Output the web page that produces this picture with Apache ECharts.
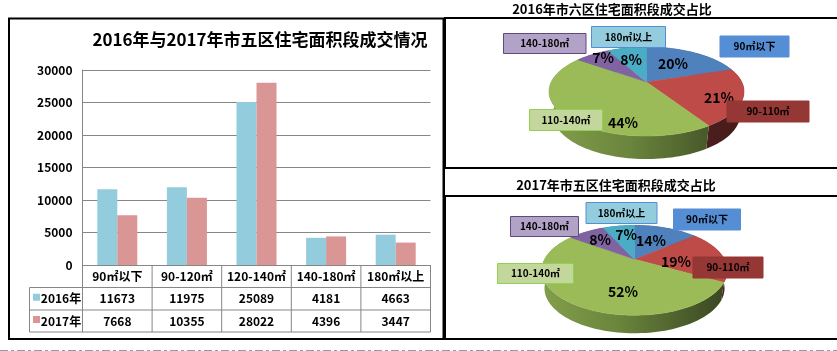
<!DOCTYPE html>
<html>
<head>
<meta charset="utf-8">
<style>
  html, body { margin: 0; padding: 0; background: #fff; }
  #main { width: 837px; height: 351px; }
</style>
<script src="https://cdn.jsdelivr.net/npm/echarts@6/dist/echarts.min.js"></script>
</head>
<body>
<div id="main"></div>
<script>
// 柱状图数据
const categories = ["90㎡以下", "90-120㎡", "120-140㎡", "140-180㎡", "180㎡以上"];
const values2016 = [11673, 11975, 25089, 4181, 4663];
const values2017 = [7668, 10355, 28022, 4396, 3447];
const yTicks = [0, 5000, 10000, 15000, 20000, 25000, 30000];

// 饼图数据
const pieNames = ["90㎡以下", "90-110㎡", "110-140㎡", "140-180㎡", "180㎡以上"];
const shares2016 = [20, 21, 44, 7, 8];
const shares2017 = [14, 19, 52, 8, 7];

const FONT = "'Noto Sans CJK SC', sans-serif";
const GREY = "#868686";
const grid = { left: 82.5, right: 430.5, top: 70, bottom: 265 };
const colW = (grid.right - grid.left) / categories.length;
const rowY = [265, 287.5, 310, 332];

const topColors = ["#4F81BD", "#BE4B48", "#9BBB59", "#8064A2", "#4BACC6"];
const sideColors = [
  ["#2f4d71", "#2f4d71", "#2f4d71"],
  ["#5a2422", "#5a2422", "#451c1b"],
  ["#829d4a", "#6b863d", "#3a4622"],
  ["#4c3c61", "#4c3c61", "#4c3c61"],
  ["#2d6776", "#2d6776", "#2d6776"],
];
const boxStyles = [
  { fill: "#558ED5", stroke: "#558ED5" },
  { fill: "#953735", stroke: "#953735" },
  { fill: "#C3D69B", stroke: "#92D050" },
  { fill: "#B3A2C7", stroke: "#604A7B" },
  { fill: "#93CDDD", stroke: "#558ED5" },
];

// 饼图的透视参数和手工摆放的标签位置
const pie2016 = {
  shares: shares2016,
  cx: 646.5, cy: 82, rx: 95.3, ry: 42.5, k: 0.2135, depth: 23, shrink: 0.96,
  pct: [[673, 64], [719, 98], [623, 123], [603, 58], [631, 60]],
  boxes: [[720, 36, 69, 21], [727, 101, 82, 21], [529.5, 109.5, 73, 21], [503.5, 33.5, 82.5, 20], [591.5, 26.5, 74, 21]],
};
const pie2017 = {
  shares: shares2017,
  cx: 634.5, cy: 259.3, rx: 90, ry: 42.3, k: 0.244, depth: 18, shrink: 0.97,
  pct: [[651, 241], [676, 262], [623, 291.5], [600, 240], [626, 235]],
  boxes: [[673.5, 209, 67, 21], [693, 257, 70, 21], [497.5, 263.5, 76, 20], [510.5, 216.5, 68, 20], [586, 202.5, 71, 21]],
};

// 圆上一点按透视投影到屏幕
function project(pie, deg, shrink, dy) {
  const t = deg * Math.PI / 180;
  const u = Math.sin(t), v = -Math.cos(t);
  const w = 1 - pie.k * v;
  return [pie.cx + pie.rx * shrink * u / w, pie.cy + pie.ry * v / w + dy];
}

function arcPoints(pie, from, to, shrink, dy) {
  const pts = [];
  const n = Math.max(2, Math.ceil(Math.abs(to - from) / 2));
  for (let i = 0; i <= n; i++) {
    pts.push(project(pie, from + (to - from) * i / n, shrink, dy));
  }
  return pts;
}

// 累计占比,每片 [起点, 终点]
function toRanges(shares) {
  const total = shares.reduce((a, b) => a + b, 0);
  let sum = 0;
  return shares.map((s) => {
    const start = sum;
    sum += s;
    return [start / total * 360, sum / total * 360];
  });
}

function pieSideSeries(pie) {
  return {
    type: "custom",
    coordinateSystem: "none",
    silent: true,
    z: 3,
    data: toRanges(pie.shares),
    renderItem: (params, api) => {
      const from = api.value(0), to = api.value(1);
      const c = sideColors[params.dataIndex];
      const left = pie.cx - pie.rx, right = pie.cx + pie.rx;
      const points = arcPoints(pie, from, to, 1, 0).concat(arcPoints(pie, to, from, pie.shrink, pie.depth));
      return {
        type: "polygon",
        shape: { points: points },
        style: {
          fill: new echarts.graphic.LinearGradient(left, 0, right, 0, [
            { offset: 0, color: c[0] },
            { offset: 0.4, color: c[1] },
            { offset: 1, color: c[2] },
          ], true),
        },
      };
    },
  };
}

function pieTopSeries(pie) {
  return {
    type: "custom",
    coordinateSystem: "none",
    silent: true,
    z: 4,
    data: toRanges(pie.shares),
    renderItem: (params, api) => {
      const i = params.dataIndex;
      const points = [[pie.cx, pie.cy]].concat(arcPoints(pie, api.value(0), api.value(1), 1, 0));
      return {
        type: "group",
        children: [
          {
            type: "polygon",
            shape: { points: points },
            style: { fill: topColors[i], stroke: topColors[i], lineWidth: 0.5 },
          },
          {
            type: "text",
            z2: 10,
            style: {
              x: pie.pct[i][0],
              y: pie.pct[i][1],
              text: pie.shares[i] + "%",
              fill: "#000",
              font: "bold 14px " + FONT,
              align: "center",
              verticalAlign: "middle",
            },
          },
        ],
      };
    },
  };
}

function boxGraphics(pie) {
  return pie.boxes.map((b, i) => ({
    type: "group",
    z: 20,
    children: [
      {
        type: "rect",
        z: 20,
        shape: { x: b[0], y: b[1], width: b[2], height: b[3] },
        style: { fill: boxStyles[i].fill, stroke: boxStyles[i].stroke, lineWidth: 1 },
      },
      {
        type: "text",
        z: 21,
        style: {
          x: b[0] + b[2] / 2,
          y: b[1] + b[3] / 2,
          text: pieNames[i],
          fill: "#000",
          font: "bold 10px " + FONT,
          align: "center",
          verticalAlign: "middle",
        },
      },
    ],
  }));
}

function line(x1, y1, x2, y2, color, width, dash) {
  return {
    type: "line",
    z: 5,
    shape: { x1: x1, y1: y1, x2: x2, y2: y2 },
    style: { stroke: color, lineWidth: width, lineDash: dash || null },
  };
}

function frame(x, y, w, h) {
  return {
    type: "rect",
    z: 30,
    shape: { x: x, y: y, width: w, height: h },
    style: { fill: "transparent", stroke: "#000", lineWidth: 2 },
  };
}

function tableText(x, y, text) {
  return {
    type: "text",
    z: 6,
    style: {
      x: x, y: y, text: text, fill: "#000",
      font: "bold 12px " + FONT,
      align: "center",
      verticalAlign: "middle",
    },
  };
}

// 柱状图下面的数据表
function tableGraphics() {
  const items = [];
  const tableLeft = 29.5;
  items.push(line(tableLeft, rowY[1], grid.right, rowY[1], GREY, 1));
  items.push(line(tableLeft, rowY[2], grid.right, rowY[2], GREY, 1));
  items.push(line(tableLeft, rowY[3], grid.right, rowY[3], GREY, 1));
  items.push(line(tableLeft, rowY[1], tableLeft, rowY[3], GREY, 1));
  for (let i = 0; i <= categories.length; i++) {
    const x = grid.left + colW * i;
    items.push(line(x, rowY[0], x, rowY[3], GREY, 1));
  }
  [[values2016, "2016年", "#93CDDD"], [values2017, "2017年", "#D99694"]].forEach((row, r) => {
    const y = (rowY[r + 1] + rowY[r + 2]) / 2;
    items.push({
      type: "rect",
      z: 6,
      shape: { x: 33, y: y - 5, width: 7, height: 7 },
      style: { fill: row[2] },
    });
    items.push(tableText(61, y, row[1]));
    row[0].forEach((v, i) => items.push(tableText(grid.left + colW * (i + 0.5), y, String(v))));
  });
  return items;
}

const titleStyle = (size) => ({ color: "#000", fontWeight: "bold", fontSize: size, fontFamily: FONT });

const option = {
  backgroundColor: "#fff",
  animation: false,
  title: [
    { text: "2016年与2017年市五区住宅面积段成交情况", left: 260, top: 31, textAlign: "center", padding: 0, textStyle: titleStyle(17) },
    { text: "2016年市六区住宅面积段成交占比", left: 612, top: 3, textAlign: "center", padding: 0, textStyle: titleStyle(13) },
    { text: "2017年市五区住宅面积段成交占比", left: 616, top: 179, textAlign: "center", padding: 0, textStyle: titleStyle(13) },
  ],
  grid: {
    left: grid.left,
    top: grid.top,
    width: grid.right - grid.left,
    height: grid.bottom - grid.top,
  },
  xAxis: {
    type: "category",
    data: categories,
    axisLine: { lineStyle: { color: GREY, width: 1 } },
    axisTick: { show: false },
    axisLabel: { interval: 0, margin: 5, color: "#000", fontSize: 12, fontWeight: "bold", fontFamily: FONT },
  },
  yAxis: {
    type: "value",
    min: yTicks[0],
    max: yTicks[yTicks.length - 1],
    interval: yTicks[1] - yTicks[0],
    axisLine: { show: true, lineStyle: { color: GREY, width: 1 } },
    axisTick: { show: false },
    splitLine: { lineStyle: { color: GREY, width: 1 } },
    axisLabel: { margin: 10, color: "#000", fontSize: 12, fontWeight: "bold", fontFamily: FONT, formatter: (v) => String(v) },
  },
  series: [
    { name: "2016年", type: "bar", data: values2016, barWidth: 20, barGap: 0, itemStyle: { color: "#93CDDD" } },
    { name: "2017年", type: "bar", data: values2017, barWidth: 20, barGap: 0, itemStyle: { color: "#D99694" } },
    pieSideSeries(pie2016),
    pieTopSeries(pie2016),
    pieSideSeries(pie2017),
    pieTopSeries(pie2017),
  ],
  graphic: [
    frame(9, 18.5, 435, 320.5),
    frame(445, 18, 393, 150),
    frame(445, 196, 393, 143),
    line(444, 18, 444, 168, "#000", 3),
    line(443.5, 168, 443.5, 339, "#000", 2),
    line(0, 350.5, 837, 350.5, "#9a9a9a", 1, [8, 3, 3, 3]),
  ].concat(tableGraphics(), boxGraphics(pie2016), boxGraphics(pie2017)),
};

const myChart = echarts.init(document.getElementById("main"));
myChart.setOption(option);
</script>
</body>
</html>
